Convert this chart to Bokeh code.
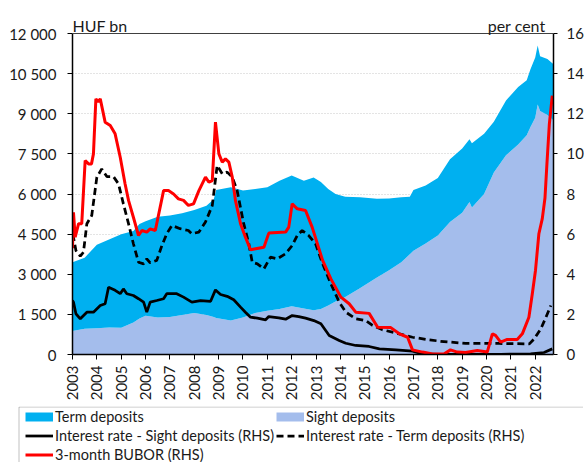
import numpy as np
from math import pi
from bokeh.plotting import figure
from bokeh.layouts import column
from bokeh.models import (Range1d, LinearAxis, FixedTicker, Legend, LegendItem, Label, Span,
                          BoxAnnotation)
from bokeh.embed import file_html
from bokeh.resources import INLINE

# ---------------- data ----------------
dep_dates = [2003.0, 2003.5, 2004.0, 2004.5, 2005.0, 2005.5, 2005.75, 2006.0, 2006.5, 2007.0,
             2007.5, 2008.0, 2008.5, 2008.8, 2008.9, 2009.5, 2010.0, 2010.5, 2011.0, 2011.5,
             2012.0, 2012.5, 2012.9, 2013.2, 2013.5, 2013.8, 2014.2, 2014.8, 2015.5, 2016.0,
             2016.5, 2016.85, 2017.0, 2017.5, 2018.0, 2018.5, 2019.0, 2019.3, 2019.4, 2019.9,
             2020.3, 2020.8, 2021.3, 2021.65, 2021.8, 2022.0, 2022.1, 2022.2, 2022.5, 2022.75]
sight_deposits = [880, 960, 980, 1010, 1000, 1200, 1350, 1450, 1380, 1400,
                  1480, 1550, 1480, 1400, 1360, 1270, 1380, 1550, 1640, 1700,
                  1800, 1720, 1650, 1700, 1830, 1980, 2150, 2480, 2880, 3150,
                  3450, 3750, 3880, 4150, 4450, 4950, 5300, 5700, 5500, 6000,
                  6800, 7450, 7850, 8200, 8500, 8850, 9350, 9100, 8950, 8750]
term_deposits = [2570, 2660, 3120, 3290, 3500, 3420, 3530, 3530, 3770, 3800,
                 3800, 3850, 4080, 4400, 4790, 4980, 4750, 4640, 4610, 4800,
                 4890, 4780, 4970, 4750, 4360, 4020, 3750, 3400, 2940, 2680,
                 2430, 2150, 2270, 2170, 2150, 2350, 2400, 2350, 2400, 2250,
                 1900, 2050, 2150, 2050, 2150, 2250, 2200, 2050, 2100, 2100]

bubor_dates = [2003.0, 2003.04, 2003.11, 2003.25, 2003.38, 2003.52, 2003.66, 2003.78, 2003.86, 2003.96,
               2004.05, 2004.14, 2004.34, 2004.55, 2004.75, 2004.96, 2005.16, 2005.3, 2005.5, 2005.71,
               2005.85, 2006.05, 2006.19, 2006.4, 2006.74, 2006.94, 2007.15, 2007.35, 2007.56, 2007.76,
               2007.97, 2008.19, 2008.46, 2008.6, 2008.74, 2008.87, 2009.01, 2009.15, 2009.28, 2009.42,
               2009.56, 2009.69, 2009.9, 2010.1, 2010.31, 2010.52, 2010.86, 2011.06, 2011.75, 2011.88,
               2012.02, 2012.23, 2012.57, 2012.84, 2013.27, 2013.61, 2014.02, 2014.36, 2014.63, 2015.18,
               2015.53, 2016.07, 2016.42, 2016.76, 2016.96, 2017.37, 2017.78, 2018.25, 2018.52, 2018.8,
               2019.14, 2019.62, 2020.03, 2020.24, 2020.37, 2020.58, 2020.85, 2021.26, 2021.47, 2021.74,
               2021.88, 2022.01, 2022.15, 2022.29, 2022.4, 2022.48, 2022.58, 2022.7]
bubor = [5.3, 7.09, 5.85, 6.52, 6.52, 9.67, 9.5, 9.5, 10.0, 12.74,
         12.6, 12.74, 11.58, 11.41, 11.0, 9.83, 8.5, 7.68, 6.84, 5.93,
         6.18, 6.1, 6.26, 6.18, 8.17, 8.17, 8.0, 7.76, 7.68, 7.43,
         7.51, 8.17, 8.84, 8.59, 8.67, 11.58, 10.0, 9.59, 9.75, 9.59,
         8.84, 7.68, 6.52, 5.85, 5.22, 5.27, 5.35, 6.05, 6.1, 6.35,
         7.51, 7.26, 7.18, 6.35, 4.69, 3.77, 2.86, 2.53, 2.11, 2.05,
         1.36, 1.34, 1.03, 0.86, 0.23, 0.12, 0.03, 0.02, 0.23, 0.12,
         0.1, 0.2, 0.12, 1.03, 0.95, 0.62, 0.75, 0.75, 1.03, 1.86,
         3.03, 4.19, 6.02, 6.77, 7.8, 9.5, 11.5, 12.9]

term_rate_dates = [2003.0, 2003.04, 2003.14, 2003.32, 2003.45, 2003.59, 2003.79, 2004.0, 2004.2, 2004.41,
                   2004.68, 2004.89, 2005.09, 2005.3, 2005.5, 2005.71, 2005.92, 2006.05, 2006.19, 2006.46,
                   2006.67, 2006.87, 2007.08, 2007.42, 2007.76, 2007.9, 2008.19, 2008.46, 2008.74, 2008.94,
                   2009.15, 2009.35, 2009.56, 2009.76, 2010.03, 2010.24, 2010.38, 2010.59, 2010.86, 2011.13,
                   2011.41, 2011.75, 2012.02, 2012.23, 2012.43, 2012.7, 2012.98, 2013.27, 2013.61, 2013.95,
                   2014.22, 2014.63, 2015.04, 2015.32, 2015.73, 2016.42, 2016.96, 2017.65, 2018.11, 2019.14,
                   2020.52, 2021.76, 2021.96, 2022.23, 2022.44, 2022.64]
term_rate = [6.0, 5.85, 5.18, 4.9, 5.1, 6.52, 6.93, 8.84, 9.25, 8.87,
             8.87, 8.5, 7.51, 6.52, 5.52, 4.6, 4.52, 4.77, 4.57, 4.69,
             5.43, 6.02, 6.43, 6.27, 6.18, 6.02, 6.1, 6.6, 7.43, 9.42,
             9.0, 9.09, 8.84, 8.17, 6.52, 5.52, 4.6, 4.52, 4.27, 4.85,
             4.77, 5.02, 5.43, 5.93, 6.18, 5.93, 5.52, 4.52, 3.52, 2.61,
             2.11, 1.78, 1.69, 1.45, 1.23, 1.03, 0.86, 0.73, 0.66, 0.55,
             0.55, 0.53, 0.78, 1.28, 1.86, 2.44]

sight_rate_dates = [2003.0, 2003.04, 2003.14, 2003.32, 2003.59, 2003.86, 2004.14, 2004.34, 2004.48, 2004.75,
                    2004.96, 2005.09, 2005.23, 2005.5, 2005.71, 2005.92, 2006.05, 2006.19, 2006.46, 2006.74,
                    2006.87, 2007.28, 2007.56, 2007.9, 2008.26, 2008.67, 2008.87, 2009.08, 2009.35, 2009.62,
                    2009.9, 2010.1, 2010.31, 2010.59, 2010.93, 2011.06, 2011.47, 2011.75, 2012.02, 2012.29,
                    2012.57, 2012.91, 2013.2, 2013.54, 2013.95, 2014.22, 2014.63, 2015.18, 2015.6, 2016.28,
                    2016.96, 2017.37, 2018.11, 2020.58, 2021.81, 2022.36, 2022.7]
sight_rate = [2.69, 2.61, 2.03, 1.78, 2.11, 2.11, 2.44, 2.53, 3.35, 3.2,
              3.03, 3.27, 3.03, 2.94, 2.78, 2.61, 2.11, 2.61, 2.69, 2.78,
              3.03, 3.03, 2.86, 2.61, 2.69, 2.65, 3.22, 2.99, 2.9, 2.73,
              2.36, 2.11, 1.86, 1.81, 1.73, 1.89, 1.83, 1.76, 1.94, 1.89,
              1.81, 1.69, 1.53, 0.95, 0.7, 0.56, 0.45, 0.4, 0.28, 0.23,
              0.17, 0.03, 0.01, 0.01, 0.03, 0.1, 0.28]

years = list(range(2003, 2023))
left_ticks = [0, 1500, 3000, 4500, 6000, 7500, 9000, 10500, 12000]
left_tick_labels = ["0", "1 500", "3 000", "4 500", "6 000", "7 500", "9 000", "10 500", "12 000"]
right_ticks = [0, 2, 4, 6, 8, 10, 12, 14, 16]
legend_labels = ["Term deposits", "Sight deposits",
                 "Interest rate - Sight deposits (RHS)", "Interest rate - Term deposits (RHS)",
                 "3-month BUBOR (RHS)"]

# ---------------- layout / styling ----------------
FONT = "Lato"
TXT = "#1a1a1a"
C_TERM = "#00B0F0"
C_SIGHT = "#A4BDEC"
C_RED = "#FF0000"
DASH = "7 4"

AXIS_PX = 321      # pixel height of the 0..max value span
HEAD_PX = 23       # extra frame room above the top tick (for unit labels)
FRAME_H = AXIS_PX + HEAD_PX
left_max = left_ticks[-1]
right_max = right_ticks[-1]

p = figure(frame_width=481, frame_height=FRAME_H,
           x_range=Range1d(2003, 2022.75),
           y_range=Range1d(0, left_max * FRAME_H / AXIS_PX),
           output_backend="svg", toolbar_location=None,
           min_border_left=72, min_border_top=10, min_border_bottom=52, min_border_right=0,
           background_fill_color="white", border_fill_color="white")
p.frame_align = False
p.extra_y_ranges = {"rate": Range1d(0, right_max * FRAME_H / AXIS_PX)}

sight_arr = np.array(sight_deposits, dtype=float)
total_arr = sight_arr + np.array(term_deposits, dtype=float)

p.varea(x=dep_dates, y1=np.zeros(len(dep_dates)), y2=sight_arr, fill_color=C_SIGHT)
p.varea(x=dep_dates, y1=sight_arr, y2=total_arr, fill_color=C_TERM)

p.line(term_rate_dates, term_rate, y_range_name="rate", line_color="black",
       line_width=2.75, line_dash=DASH)
p.line(sight_rate_dates, sight_rate, y_range_name="rate", line_color="black", line_width=2.75)
p.line(bubor_dates, bubor, y_range_name="rate", line_color=C_RED, line_width=3)

# top frame line at the axis maximum
p.add_layout(Span(location=left_max, dimension="width", line_color="#404040", line_width=1))

# axes
p.xaxis.ticker = FixedTicker(ticks=years)
p.xaxis.major_label_overrides = {y: str(y) for y in years}
p.xaxis.major_label_orientation = pi / 2
p.yaxis.ticker = FixedTicker(ticks=left_ticks)
p.yaxis.major_label_overrides = dict(zip(left_ticks, left_tick_labels))
p.yaxis.bounds = (0, left_max)

right_axis = LinearAxis(y_range_name="rate", ticker=FixedTicker(ticks=right_ticks),
                        bounds=(0, right_max))
p.add_layout(right_axis, "right")

for ax in p.axis:
    ax.major_label_text_font = FONT
    ax.major_label_text_font_size = "15px"
    ax.major_label_text_color = TXT
    ax.axis_line_color = "black"
    ax.axis_line_width = 1.5
    ax.major_tick_line_color = "black"
    ax.major_tick_in = 0
    ax.major_tick_out = 5
    ax.minor_tick_line_color = None
p.yaxis[0].major_label_standoff = 11
p.xaxis.major_label_standoff = 6
right_axis.major_tick_out = 4
right_axis.major_label_standoff = 9

p.xgrid.visible = False
p.ygrid.ticker = FixedTicker(ticks=left_ticks)
p.ygrid.grid_line_color = "#C8C8C8"
p.ygrid.grid_line_dash = "1 2"
p.outline_line_color = None

# unit labels
p.add_layout(Label(x=0, y=AXIS_PX + 8, x_units="screen", y_units="screen", text="HUF bn",
                   text_font=FONT, text_font_size="16px", text_color=TXT,
                   text_baseline="alphabetic", text_align="left"))
p.add_layout(Label(x=473, y=AXIS_PX + 8, x_units="screen", y_units="screen", text="per cent",
                   text_font=FONT, text_font_size="16px", text_color=TXT,
                   text_baseline="alphabetic", text_align="right"))

# ---------------- legend strip (own figure below the chart) ----------------
LEG_W, LEG_H = 583, 56
ROW_H = 19
pl = figure(width=LEG_W, height=LEG_H, x_range=Range1d(0, LEG_W), y_range=Range1d(0, LEG_H),
            x_axis_type=None, y_axis_type=None, output_backend="svg", toolbar_location=None,
            min_border_left=0, min_border_right=0, min_border_top=0, min_border_bottom=0,
            background_fill_color="white", border_fill_color="white")
pl.frame_align = False
pl.outline_line_color = None
pl.xgrid.visible = False
pl.ygrid.visible = False

# legend keys: same styles as the chart marks (their data lie outside this strip's ranges)
k_term = pl.line(x=dep_dates[:2], y=term_deposits[:2], line_color=C_TERM, line_width=9)
k_sight = pl.line(x=dep_dates[:2], y=sight_deposits[:2], line_color=C_SIGHT, line_width=9)
k_srate = pl.line(x=sight_rate_dates[:2], y=sight_rate[:2], line_color="black", line_width=2.75)
k_trate = pl.line(x=term_rate_dates[:2], y=term_rate[:2], line_color="black", line_width=2.75,
                  line_dash=DASH)
k_bubor = pl.line(x=bubor_dates[:2], y=bubor[:2], line_color=C_RED, line_width=3)

# legend frame (open to the right and bottom, as in the reference)
pl.add_layout(BoxAnnotation(left=18.5, right=LEG_W + 50, top=LEG_H - 0.5, bottom=-30,
                            fill_alpha=0, line_color="#303030", line_width=1))

legend = Legend(items=[LegendItem(label=lab, renderers=[r]) for lab, r in
                       zip(legend_labels, [k_term, k_sight, k_srate, k_trate, k_bubor])],
                location=(25, LEG_H - 0.5 - 3 * ROW_H), orientation="horizontal", ncols=2,
                label_text_font=FONT, label_text_font_size="14.5px", label_text_color=TXT,
                glyph_width=28, glyph_height=ROW_H, label_height=ROW_H, label_width=221,
                label_standoff=2, spacing=0, padding=0, margin=0,
                border_line_color=None, background_fill_alpha=0)
pl.add_layout(legend, "center")

layout = column(p, pl, spacing=0)
open("out.html", "w").write(file_html(layout, INLINE))
